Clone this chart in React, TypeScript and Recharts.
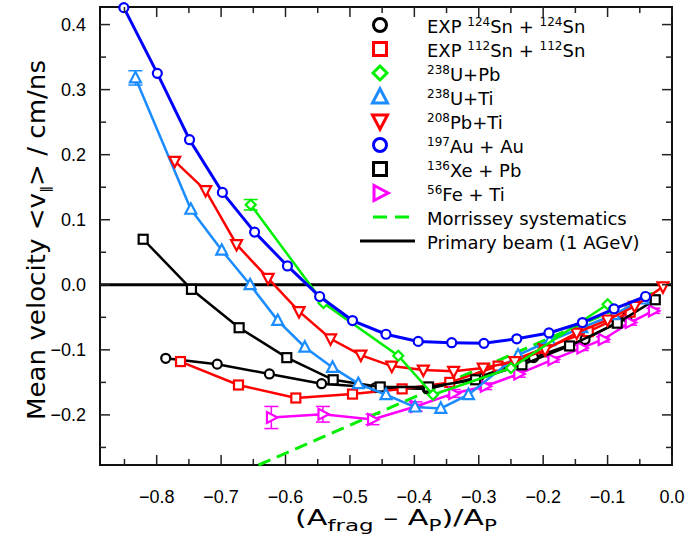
import React from 'react'
import {
  ScatterChart, Scatter, XAxis, YAxis, ErrorBar,
  ReferenceLine, ReferenceArea, Legend, Label,
} from 'recharts'

// ── Data ──────────────────────────────────────────────────────────────────────

const SN124_X = [-0.786, -0.706, -0.625, -0.544, -0.46, -0.38, -0.30, -0.215, -0.135, -0.07]
const SN124_Y = [-0.113, -0.122, -0.137, -0.152, -0.158, -0.160, -0.142, -0.112, -0.084, -0.050]

const SN112_X = [-0.763, -0.673, -0.584, -0.496, -0.419, -0.345, -0.27, -0.2, -0.13, -0.065]
const SN112_Y = [-0.118, -0.154, -0.174, -0.168, -0.160, -0.150, -0.125, -0.098, -0.072, -0.042]

const UPB_X = [-0.654, -0.541, -0.425, -0.371, -0.25, -0.10]
const UPB_Y = [0.123, -0.028, -0.109, -0.169, -0.128, -0.030]

const UTI_X = [-0.833, -0.747, -0.699, -0.655, -0.612, -0.570, -0.527, -0.487, -0.444, -0.399, -0.359, -0.316, -0.239, -0.19, -0.14, -0.09, -0.045]
const UTI_Y = [0.318, 0.116, 0.053, 0.0, -0.055, -0.096, -0.127, -0.152, -0.169, -0.188, -0.190, -0.169, -0.108, -0.086, -0.066, -0.046, -0.022]

const PBTI_X = [-0.772, -0.724, -0.676, -0.627, -0.579, -0.530, -0.483, -0.435, -0.386, -0.339, -0.293, -0.244, -0.197, -0.148, -0.100, -0.058, -0.014]
const PBTI_Y = [0.190, 0.145, 0.062, 0.010, -0.041, -0.083, -0.108, -0.125, -0.131, -0.133, -0.128, -0.118, -0.100, -0.074, -0.054, -0.033, -0.003]

const AU_X = [-0.851, -0.799, -0.749, -0.698, -0.648, -0.597, -0.547, -0.496, -0.444, -0.394, -0.342, -0.292, -0.241, -0.191, -0.139, -0.090, -0.041]
const AU_Y = [0.426, 0.325, 0.223, 0.142, 0.081, 0.029, -0.018, -0.055, -0.076, -0.087, -0.089, -0.090, -0.083, -0.074, -0.058, -0.037, -0.018]

const XE_X = [-0.821, -0.746, -0.672, -0.598, -0.526, -0.453, -0.378, -0.305, -0.233, -0.159, -0.085, -0.026]
const XE_Y = [0.070, -0.007, -0.066, -0.112, -0.146, -0.157, -0.157, -0.146, -0.123, -0.094, -0.059, -0.023]

const FE_X = [-0.622, -0.542, -0.465, -0.398, -0.339, -0.290, -0.238, -0.185, -0.140, -0.107, -0.065, -0.029]
const FE_Y = [-0.204, -0.199, -0.207, -0.187, -0.167, -0.156, -0.137, -0.115, -0.097, -0.084, -0.058, -0.040]
const FE_ERR = [0.017, 0.012, 0.008, 0.007, 0.006, 0.005, 0.005, 0.004, 0.004, 0.004, 0.004, 0.004]

// single error bars visible on the first points of two series
const UPB_ERR = [0.008]
const UTI_ERR = [0.011]

const MORRISSEY_X = [-0.642, -0.03]
const MORRISSEY_Y = [-0.277, -0.013]

const X_DOMAIN = [-0.888, 0]
const Y_DOMAIN = [-0.277, 0.427]
const X_TICKS = [-0.85, -0.8, -0.75, -0.7, -0.65, -0.6, -0.55, -0.5, -0.45, -0.4, -0.35, -0.3, -0.25, -0.2, -0.15, -0.1, -0.05, 0]
const Y_TICKS = [-0.25, -0.2, -0.15, -0.1, -0.05, 0, 0.05, 0.1, 0.15, 0.2, 0.25, 0.3, 0.35, 0.4]

// ── Layout / style ────────────────────────────────────────────────────────────

const W = 687
const H = 539
const PLOT_LEFT = 100
const PLOT_RIGHT = 672
const PLOT_TOP = 7
const PLOT_BOTTOM = 465

const FONT = '"DejaVu Sans", sans-serif'
const TICK_FONT = '"Liberation Sans", Arial, sans-serif'

const C_BLACK = '#000000'
const C_RED = '#ff0000'
const C_GREEN = '#00ee00'
const C_LBLUE = '#1a8cff'
const C_BLUE = '#0000ff'
const C_MAGENTA = '#ff00ff'

type Kind = 'circle' | 'square' | 'diamond' | 'up' | 'down' | 'right'

const zip = (xs: number[], ys: number[], es?: number[]) =>
  xs.map((x, i) => ({ x, y: ys[i], e: es ? es[i] : undefined }))

function Marker({ kind, cx, cy, s, color, sw }: { kind: Kind; cx: number; cy: number; s: number; color: string; sw: number }) {
  const common = { fill: '#fff', stroke: color, strokeWidth: sw }
  if (kind === 'circle') return <circle cx={cx} cy={cy} r={s} {...common} />
  if (kind === 'square') return <rect x={cx - s} y={cy - s} width={2 * s} height={2 * s} {...common} />
  let pts = ''
  if (kind === 'diamond') pts = `${cx},${cy - s} ${cx + s},${cy} ${cx},${cy + s} ${cx - s},${cy}`
  if (kind === 'up') pts = `${cx},${cy - s * 1.1} ${cx + s},${cy + s * 0.8} ${cx - s},${cy + s * 0.8}`
  if (kind === 'down') pts = `${cx},${cy + s * 1.1} ${cx + s},${cy - s * 0.8} ${cx - s},${cy - s * 0.8}`
  if (kind === 'right') pts = `${cx + s * 1.1},${cy} ${cx - s * 0.8},${cy - s} ${cx - s * 0.8},${cy + s}`
  return <polygon points={pts} {...common} strokeLinejoin="miter" />
}

const SIZES: Record<Kind, number> = { circle: 4.5, square: 4.5, diamond: 5, up: 5.5, down: 5.5, right: 5.5 }

const shapeOf = (kind: Kind, color: string) => (p: any) =>
  <Marker kind={kind} cx={p.cx} cy={p.cy} s={SIZES[kind]} color={color} sw={2.2} />

const noShape = () => <g />

const isMajor = (v: number) => Math.round(v * 20) % 2 === 0
const fmt = (v: number) => (Math.round(v * 10) / 10).toFixed(1).replace('-', '\u2212')

// ── Axes ──────────────────────────────────────────────────────────────────────

function XTick(props: any) {
  const { x, payload } = props
  const v = payload.value as number
  const len = isMajor(v) ? 10 : 6
  return (
    <g>
      <line x1={x} x2={x} y1={PLOT_BOTTOM} y2={PLOT_BOTTOM - len} stroke="#222" strokeWidth={1.5} />
      <line x1={x} x2={x} y1={PLOT_TOP} y2={PLOT_TOP + len} stroke="#222" strokeWidth={1.5} />
      {isMajor(v) && (
        <text x={x} y={503} textAnchor="middle" fontFamily={TICK_FONT} fontSize={18} fill="#000">{fmt(v)}</text>
      )}
    </g>
  )
}

function YTick(props: any) {
  const { y, payload } = props
  const v = payload.value as number
  const len = isMajor(v) ? 10 : 6
  return (
    <g>
      <line x1={PLOT_LEFT} x2={PLOT_LEFT + len} y1={y} y2={y} stroke="#222" strokeWidth={1.5} />
      <line x1={PLOT_RIGHT} x2={PLOT_RIGHT - len} y1={y} y2={y} stroke="#222" strokeWidth={1.5} />
      {isMajor(v) && (
        <text x={86} y={y + 6.5} textAnchor="end" fontFamily={TICK_FONT} fontSize={18} fill="#000">{fmt(v)}</text>
      )}
    </g>
  )
}

const XTitle = () => (
  <text x={295} y={525} fontFamily={FONT} fontSize={21} fill="#000" textLength={202} lengthAdjust="spacingAndGlyphs">
    (A<tspan dy={6} fontSize={16}>frag</tspan>
    <tspan dy={-6}>{' \u2013 A'}</tspan>
    <tspan dy={6} fontSize={15}>P</tspan>
    <tspan dy={-6}>)/A</tspan>
    <tspan dy={6} fontSize={15}>P</tspan>
  </text>
)

const YTitle = () => (
  <text x={45} y={240} transform="rotate(-90, 45, 240)" textAnchor="middle" fontFamily={FONT} fontSize={24}
    fill="#000" textLength={360} lengthAdjust="spacingAndGlyphs">
    {'Mean velocity <v'}
    <tspan dy={5} fontSize={13}>{'\u2225'}</tspan>
    <tspan dy={-5}>{'> / cm/ns'}</tspan>
  </text>
)

// ── Legend ────────────────────────────────────────────────────────────────────

type Row = { kind: Kind | 'dash' | 'line'; color: string; parts: [string, boolean][] }

const LEGEND: Row[] = [
  { kind: 'circle', color: C_BLACK, parts: [['EXP ', false], ['124', true], ['Sn + ', false], ['124', true], ['Sn', false]] },
  { kind: 'square', color: C_RED, parts: [['EXP ', false], ['112', true], ['Sn + ', false], ['112', true], ['Sn', false]] },
  { kind: 'diamond', color: C_GREEN, parts: [['238', true], ['U+Pb', false]] },
  { kind: 'up', color: C_LBLUE, parts: [['238', true], ['U+Ti', false]] },
  { kind: 'down', color: C_RED, parts: [['208', true], ['Pb+Ti', false]] },
  { kind: 'circle', color: C_BLUE, parts: [['197', true], ['Au + Au', false]] },
  { kind: 'square', color: C_BLACK, parts: [['136', true], ['Xe + Pb', false]] },
  { kind: 'right', color: C_MAGENTA, parts: [['56', true], ['Fe + Ti', false]] },
  { kind: 'dash', color: C_GREEN, parts: [['Morrissey systematics', false]] },
  { kind: 'line', color: C_BLACK, parts: [['Primary beam (1 AGeV)', false]] },
]

function LegendBox() {
  return (
    <svg width={320} height={255} style={{ display: 'block' }}>
      {LEGEND.map((row, i) => {
        const cy = 25 + i * 24
        let mark
        if (row.kind === 'dash') {
          mark = <line x1={18} x2={60} y1={cy} y2={cy} stroke={row.color} strokeWidth={3} strokeDasharray="14 8" />
        } else if (row.kind === 'line') {
          mark = <line x1={5} x2={60} y1={cy} y2={cy} stroke={row.color} strokeWidth={3} />
        } else {
          const s = row.kind === 'circle' ? 6.5 : row.kind === 'square' ? 6.5 : row.kind === 'diamond' ? 7 : 7.5
          mark = <Marker kind={row.kind} cx={25} cy={cy} s={s} color={row.color} sw={3} />
        }
        let prevSup = false
        return (
          <g key={i}>
            {mark}
            <text x={72} y={cy + 8} fontFamily={FONT} fontSize={18} fill="#000">
              {row.parts.map(([t, sup], j) => {
                const dy = sup === prevSup ? 0 : sup ? -7 : 7
                prevSup = sup
                return <tspan key={j} dy={dy} fontSize={sup ? 12 : 18} style={{ whiteSpace: 'pre' }}>{t}</tspan>
              })}
            </text>
          </g>
        )
      })}
    </svg>
  )
}

// ── Chart ─────────────────────────────────────────────────────────────────────

export default function App() {
  const series: { name: string; data: any[]; kind: Kind; color: string; width: number; err?: boolean }[] = [
    { name: 'EXP 124Sn + 124Sn', data: zip(SN124_X, SN124_Y), kind: 'circle', color: C_BLACK, width: 2.5 },
    { name: 'EXP 112Sn + 112Sn', data: zip(SN112_X, SN112_Y), kind: 'square', color: C_RED, width: 2.5 },
    { name: '56Fe + Ti', data: zip(FE_X, FE_Y, FE_ERR), kind: 'right', color: C_MAGENTA, width: 2.5, err: true },
    { name: '136Xe + Pb', data: zip(XE_X, XE_Y), kind: 'square', color: C_BLACK, width: 2.5 },
    { name: '238U+Ti', data: zip(UTI_X, UTI_Y), kind: 'up', color: C_LBLUE, width: 2.5 },
    { name: '208Pb+Ti', data: zip(PBTI_X, PBTI_Y), kind: 'down', color: C_RED, width: 2.5 },
    { name: '238U+Pb', data: zip(UPB_X, UPB_Y), kind: 'diamond', color: C_GREEN, width: 2.5 },
    { name: '197Au + Au', data: zip(AU_X, AU_Y), kind: 'circle', color: C_BLUE, width: 3 },
  ]

  return (
    <div style={{ position: 'absolute', left: 0, top: 0, width: W, height: H, background: '#fff' }}>
      <ScatterChart width={W} height={H} margin={{ top: PLOT_TOP, right: W - PLOT_RIGHT, bottom: 44, left: 40 }}>
        <XAxis type="number" dataKey="x" domain={X_DOMAIN} ticks={X_TICKS} interval={0}
          tick={XTick} tickLine={false} axisLine={false} height={30}>
          <Label content={XTitle} />
        </XAxis>
        <YAxis type="number" dataKey="y" domain={Y_DOMAIN} ticks={Y_TICKS} interval={0}
          tick={YTick} tickLine={false} axisLine={false} width={60}>
          <Label content={YTitle} />
        </YAxis>
        <ReferenceArea x1={X_DOMAIN[0]} x2={X_DOMAIN[1]} y1={Y_DOMAIN[0]} y2={Y_DOMAIN[1]}
          fill="none" stroke="#111" strokeWidth={2} fillOpacity={0} />
        <ReferenceLine y={0} stroke="#000" strokeWidth={3} />

        <Scatter name="Morrissey systematics" data={zip(MORRISSEY_X, MORRISSEY_Y)} shape={noShape}
          line={{ stroke: C_GREEN, strokeWidth: 3, strokeDasharray: '13 7' }} isAnimationActive={false} />

        {series.map(s => (
          <Scatter key={s.name} name={s.name} data={s.data} shape={shapeOf(s.kind, s.color)}
            line={{ stroke: s.color, strokeWidth: s.width }} isAnimationActive={false}>
            {s.err && <ErrorBar dataKey="e" direction="y" width={7} stroke={s.color} strokeWidth={1.5} />}
          </Scatter>
        ))}

        <Scatter name="238U+Ti err" data={zip(UTI_X.slice(0, 1), UTI_Y.slice(0, 1), UTI_ERR)} shape={noShape}
          isAnimationActive={false}>
          <ErrorBar dataKey="e" direction="y" width={7} stroke={C_LBLUE} strokeWidth={1.5} />
        </Scatter>
        <Scatter name="238U+Pb err" data={zip(UPB_X.slice(0, 1), UPB_Y.slice(0, 1), UPB_ERR)} shape={noShape}
          isAnimationActive={false}>
          <ErrorBar dataKey="e" direction="y" width={7} stroke={C_GREEN} strokeWidth={1.5} />
        </Scatter>

        <Legend layout="horizontal" verticalAlign="middle" content={() => <LegendBox />}
          wrapperStyle={{ position: 'absolute', left: 355, top: 0, width: 320, height: 255 }} />
      </ScatterChart>
    </div>
  )
}
